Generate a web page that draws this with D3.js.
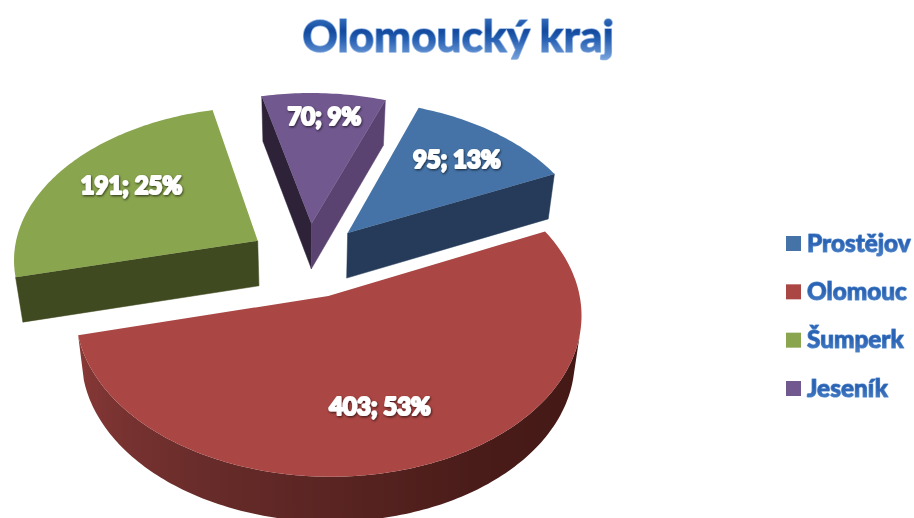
<!DOCTYPE html>
<html><head><meta charset="utf-8">
<script src="https://cdn.jsdelivr.net/npm/d3@7/dist/d3.min.js"></script>
<style>html,body{margin:0;padding:0;background:#fff;overflow:hidden}svg{display:block}</style>
</head><body><div id="chart"></div>
<script>
const categories = ["Prostějov", "Olomouc", "Šumperk", "Jeseník"];
const values = [95, 403, 191, 70];
const titleText = "Olomoucký kraj";
const topColors = ["#4573a7", "#aa4643", "#89a54e", "#71588f"];
const startWallColors = [null, null, "#404a21", "#2e2239"];
const endWallColors = ["#253b59", null, null, "#5a4370"];
const labelFractions = [0.71, 0.66, 0.66, 0.77];
const labelNudgeX = [2, -9, 3, 3];
const labelNudgeY = [-1, 3, -6, -4];

const W = 914, H = 518, cx = 308, cy = 260, R = 250, explode = 61, xScale = 0.98;
const tilt = 0.61, persp = 2290, depth = 45, narrow = 0.025, startDeg = 20;
const rad = Math.PI / 180;

const svg = d3.select("#chart").append("svg").attr("width", W).attr("height", H);
const defs = svg.append("defs");

const tg = defs.append("linearGradient").attr("id", "titleFill").attr("x1", 0).attr("y1", 0).attr("x2", 0).attr("y2", 1);
[[0, "#4f86cf"], [0.42, "#124a9e"], [0.6, "#2a62b4"], [1, "#7fa9e0"]].forEach(s => tg.append("stop").attr("offset", s[0]).attr("stop-color", s[1]));
const lg = defs.append("linearGradient").attr("id", "legendFill").attr("x1", 0).attr("y1", 0).attr("x2", 0).attr("y2", 1);
[[0, "#2f68b8"], [0.5, "#2a62b2"], [1, "#4a80c8"]].forEach(s => lg.append("stop").attr("offset", s[0]).attr("stop-color", s[1]));

const shadow = defs.append("filter").attr("id", "labelShadow").attr("x", "-20%").attr("y", "-30%").attr("width", "140%").attr("height", "170%");
shadow.append("feDropShadow").attr("dx", 0.8).attr("dy", 1.2).attr("stdDeviation", 1).attr("flood-color", "#000").attr("flood-opacity", 0.65);
const soft = defs.append("filter").attr("id", "titleGlow").attr("x", "-10%").attr("y", "-30%").attr("width", "120%").attr("height", "170%");
soft.append("feGaussianBlur").attr("stdDeviation", 0.45);

function project(x, y, z) {
  const p = 1 / (1 + y / persp);
  return [cx + x * xScale * p * (1 - z * narrow), cy - y * tilt * p + z * depth];
}
const pie = d3.pie().sort(null).value(d => d)
  .startAngle(startDeg * rad).endAngle((startDeg + 360) * rad);
const arcs = pie(values);
const total = d3.sum(values);
const line = d3.line();
const outerShade = d3.scaleLinear().domain([257, 200, 150, 90])
  .range(["#8a3a38", "#642a28", "#4a1c19", "#3f1613"]).interpolate(d3.interpolateRgb);

function ground(d, a, r) {
  const mid = (d.startAngle + d.endAngle) / 2;
  return [explode * Math.sin(mid) + r * Math.sin(a), explode * Math.cos(mid) + r * Math.cos(a)];
}

const drawOrder = [0, 2, 3, 1];
const gPie = svg.append("g");
drawOrder.forEach(i => {
  const d = arcs[i];
  const g = gPie.append("g").attr("class", "slice");
  const apex = ground(d, 0, 0);
  const steps = d3.range(0, Math.ceil((d.endAngle - d.startAngle) / rad) + 1)
    .map(k => Math.min(d.startAngle + k * rad, d.endAngle));

  const wall = (angle, color) => {
    if (!color) return;
    const e = ground(d, angle, R);
    const pts = [project(apex[0], apex[1], 0), project(e[0], e[1], 0), project(e[0], e[1], 1), project(apex[0], apex[1], 1)];
    g.append("path").attr("d", line(pts) + "Z").attr("fill", color).attr("stroke", color).attr("stroke-width", 0.5);
  };
  wall(d.startAngle, startWallColors[i]);
  wall(d.endAngle, endWallColors[i]);

  // curved outer wall: one shape made of the viewer-facing part of the rim
  const facing = d3.pairs(steps).filter(([a0, a1]) => {
    const e0 = ground(d, a0, R), e1 = ground(d, a1, R);
    return d3.polygonArea([project(e0[0], e0[1], 0), project(e1[0], e1[1], 0), project(e1[0], e1[1], 1), project(e0[0], e0[1], 1)]) > 0;
  });
  if (facing.length) {
    const angles = [facing[0][0]].concat(facing.map(q => q[1]));
    const upper = angles.map(a => { const e = ground(d, a, R); return project(e[0], e[1], 0); });
    const lower = angles.map(a => { const e = ground(d, a, R); return project(e[0], e[1], 1); });
    let fill = startWallColors[i] || endWallColors[i];
    if (i === 1) {
      const xs = upper.map(p => p[0]);
      const [x0, x1] = d3.extent(xs);
      const grad = defs.append("linearGradient").attr("id", "outerWall").attr("gradientUnits", "userSpaceOnUse")
        .attr("x1", x0).attr("x2", x1).attr("y1", 0).attr("y2", 0);
      angles.map((a, k) => ({ off: (xs[k] - x0) / (x1 - x0), col: outerShade(a / rad % 360) }))
        .sort((p, q) => p.off - q.off)
        .forEach(s => grad.append("stop").attr("offset", s.off).attr("stop-color", s.col));
      fill = "url(#outerWall)";
    }
    g.append("path").attr("d", line(upper.concat(lower.reverse())) + "Z").attr("fill", fill);
  }

  const rim = steps.map(a => { const e = ground(d, a, R); return project(e[0], e[1], 0); });
  const top = [project(apex[0], apex[1], 0)].concat(rim);
  g.append("path").attr("d", line(top) + "Z").attr("fill", topColors[i]);
});

arcs.forEach((d, i) => {
  const mid = (d.startAngle + d.endAngle) / 2;
  const e = ground(d, mid, R * labelFractions[i]);
  const p = project(e[0], e[1], 0);
  svg.append("text").attr("x", p[0] + labelNudgeX[i]).attr("y", p[1] + 8.5 + labelNudgeY[i])
    .attr("text-anchor", "middle")
    .attr("font-family", "Lato, 'Open Sans', sans-serif").attr("font-weight", 700).attr("font-size", 24)
    .attr("fill", "#fff").attr("stroke", "#fff").attr("stroke-width", 2.2).attr("stroke-linejoin", "round")
    .attr("filter", "url(#labelShadow)")
    .text(`${values[i]}; ${Math.round(values[i] / total * 100)}%`);
});

svg.append("text").attr("x", 458).attr("y", 52).attr("text-anchor", "middle")
  .attr("font-family", "Lato, 'Open Sans', sans-serif").attr("font-weight", 900).attr("font-size", 44)
  .attr("fill", "url(#titleFill)").attr("stroke", "#8fb2e2").attr("stroke-width", 1.6).attr("paint-order", "stroke")
  .attr("stroke-linejoin", "round").attr("filter", "url(#titleGlow)")
  .text(titleText);

const legendY = d3.scalePoint().domain(categories).range([243.5, 388.5]);
const legend = svg.append("g");
categories.forEach((c, i) => {
  legend.append("rect").attr("x", 786).attr("y", legendY(c) - 7.5).attr("width", 15).attr("height", 15).attr("fill", topColors[i]);
  legend.append("text").attr("x", 807).attr("y", legendY(c) + 8)
    .attr("font-family", "Lato, 'Open Sans', sans-serif").attr("font-weight", 900).attr("font-size", 24.3)
    .attr("fill", "url(#legendFill)").attr("stroke", "#5f90d0").attr("stroke-width", 1.2).attr("paint-order", "stroke")
    .attr("stroke-linejoin", "round").attr("filter", "url(#titleGlow)")
    .text(c);
});
</script></body></html>
